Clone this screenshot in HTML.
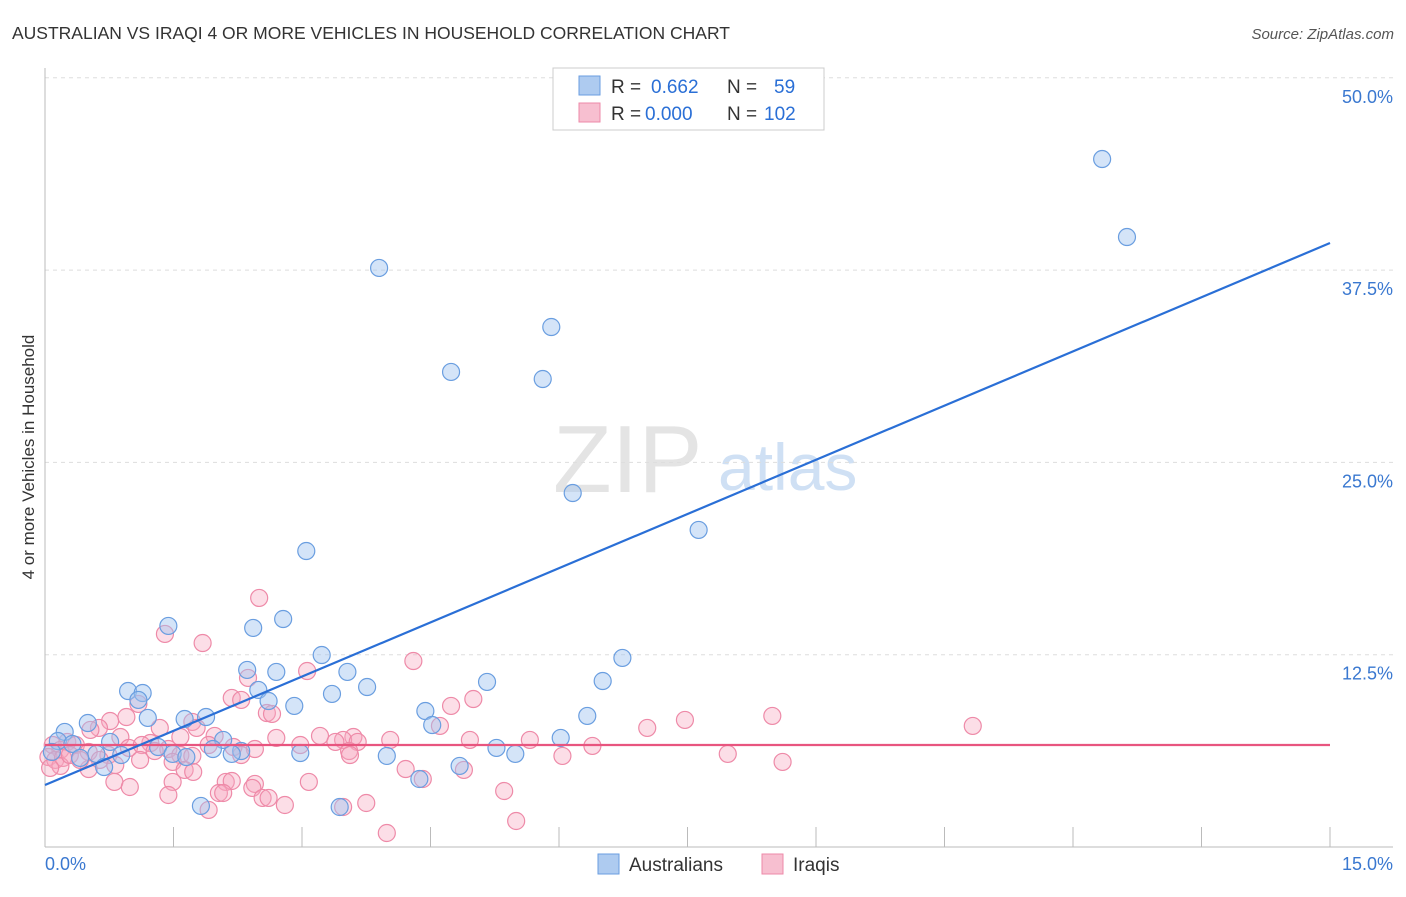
<!DOCTYPE html>
<html><head><meta charset="utf-8"><style>
body{margin:0;background:#fff;font-family:"Liberation Sans",sans-serif;}
svg text{font-family:"Liberation Sans",sans-serif;}
</style></head><body>
<svg id="chart" width="1406" height="892" xmlns="http://www.w3.org/2000/svg">
<text x="12" y="39" font-size="17.5" fill="#333">AUSTRALIAN VS IRAQI 4 OR MORE VEHICLES IN HOUSEHOLD CORRELATION CHART</text>
<text x="1394" y="39" font-size="15" fill="#555" font-style="italic" text-anchor="end">Source: ZipAtlas.com</text>
<g>
<text x="553" y="492" font-size="96" fill="#e4e4e4" font-family="Liberation Serif,serif">ZIP</text>
<text x="718" y="490" font-size="66" fill="#cfe0f4">atlas</text>
</g>
<g id="grid"></g>
<g id="axes"></g>
<g id="pts"></g>
<g id="lines"></g>
<text transform="translate(34,457) rotate(-90)" font-size="17" fill="#333" text-anchor="middle">4 or more Vehicles in Household</text>
<g>
<rect x="553" y="68" width="271" height="62" fill="#fff" stroke="#ccc"/>
<rect x="579" y="76" width="21" height="19" fill="#aecbf0" stroke="#6a9ee0"/>
<rect x="579" y="103" width="21" height="19" fill="#f7bfd0" stroke="#ee8aa8"/>
<text x="611" y="93" font-size="19" fill="#333">R = </text><text x="651" y="93" font-size="19" fill="#2a6fd6">0.662</text>
<text x="727" y="93" font-size="19" fill="#333">N = </text><text x="774" y="93" font-size="19" fill="#2a6fd6">59</text>
<text x="611" y="120" font-size="19" fill="#333">R = </text><text x="645" y="120" font-size="19" fill="#2a6fd6">0.000</text>
<text x="727" y="120" font-size="19" fill="#333">N = </text><text x="764" y="120" font-size="19" fill="#2a6fd6">102</text>
</g>
<g>
<rect x="598" y="854" width="21" height="20" fill="#aecbf0" stroke="#6a9ee0"/>
<text x="629" y="871" font-size="19" fill="#333">Australians</text>
<rect x="762" y="854" width="21" height="20" fill="#f7bfd0" stroke="#ee8aa8"/>
<text x="793" y="871" font-size="19" fill="#333">Iraqis</text>
</g>
</svg>
<script>
const blueX=[12.34,12.63,3.90,5.91,4.74,5.81,6.16,7.63,3.05,1.44,2.78,2.43,6.74,3.23,2.36,2.70,3.53,5.16,6.51,0.97,1.14,3.35,3.76,2.49,1.09,2.61,2.91,4.44,6.33,1.88,1.63,1.20,0.50,4.52,0.23,6.02,2.08,0.76,0.15,0.32,1.32,1.96,5.27,2.29,2.18,2.98,3.99,5.49,0.89,0.60,1.49,1.65,0.41,0.69,4.84,4.37,1.82,3.44,0.08];
const blueY=[44.72,39.65,37.64,33.80,30.88,30.42,23.01,20.61,19.24,14.37,14.82,14.24,12.29,12.48,11.51,11.38,11.38,10.73,10.79,10.14,10.01,9.95,10.40,10.21,9.56,9.49,9.17,8.84,8.52,8.45,8.32,8.39,8.06,7.93,7.48,7.09,6.96,6.83,6.89,6.70,6.50,6.37,6.44,6.24,6.05,6.11,5.92,6.05,5.98,6.05,6.05,5.85,5.79,5.20,5.27,4.42,2.67,2.60,6.18];
const pinkX=[2.50,1.40,1.84,4.30,3.06,2.37,5.00,4.74,2.18,2.29,1.09,2.59,2.65,0.95,0.76,0.63,1.72,4.61,7.47,8.49,10.83,7.03,1.34,0.53,3.21,3.60,3.48,3.39,3.65,1.58,1.77,1.98,0.88,1.23,0.26,0.36,0.09,6.39,0.98,1.13,1.44,2.45,2.20,0.18,0.51,0.74,3.55,3.56,7.97,1.58,1.72,6.04,0.04,0.12,0.21,0.64,1.49,8.61,0.18,0.06,0.51,1.63,4.21,4.89,1.73,4.41,1.49,0.81,0.99,2.11,2.18,2.45,3.08,2.42,2.03,2.08,1.44,5.36,2.54,2.61,2.80,3.75,1.91,3.48,5.50,3.99,0.29,0.41,1.11,0.82,1.28,1.91,2.29,2.70,2.98,4.03,4.96,5.66];
const pinkY=[16.19,13.85,13.26,12.09,11.44,10.99,9.62,9.17,9.69,9.56,9.30,8.71,8.65,8.45,8.19,7.74,8.13,7.87,8.26,8.52,7.87,7.74,7.74,7.61,7.22,7.15,6.96,6.83,6.83,7.15,7.74,7.22,7.15,6.76,6.83,6.63,6.63,6.57,6.44,6.63,6.37,6.37,6.50,6.31,6.18,5.98,6.24,5.98,6.05,5.98,5.92,5.92,5.85,5.66,5.79,5.66,5.53,5.53,5.27,5.14,5.07,5.01,5.07,5.01,4.88,4.42,4.23,4.23,3.90,4.23,4.29,4.10,4.23,3.84,3.51,3.51,3.38,3.64,3.19,3.19,2.73,2.86,2.41,2.60,1.69,0.91,5.98,5.66,5.66,5.33,6.24,6.63,5.98,7.09,6.63,6.96,6.96,6.96];
const yTicks=[12.5,25,37.5,50];
const yTickLabels=["12.5%","25.0%","37.5%","50.0%"];
const xTicks=[1.5,3,4.5,6,7.5,9,10.5,12,13.5,15];
const blueTrend=[4.03,39.26]; // y at x=0 and x=15
const pinkTrend=[6.63,6.63];
const NS='http://www.w3.org/2000/svg';
const sx=v=>45+v/15*1285;
const sy=v=>847-v/50*769.2;
function mk(tag,attrs,parent){const e=document.createElementNS(NS,tag);for(const k in attrs)e.setAttribute(k,attrs[k]);parent.appendChild(e);return e;}
const grid=document.getElementById('grid'),axes=document.getElementById('axes'),pts=document.getElementById('pts'),lines=document.getElementById('lines');
yTicks.forEach((t,i)=>{
 const l=mk('line',{x1:45,x2:1393,y1:sy(t),y2:sy(t),stroke:'#ddd','stroke-dasharray':'4,4'},grid);
 
 
 const tx=mk('text',{x:1393,y:sy(t)+25,'font-size':18,fill:'#3a78d0','text-anchor':'end'},axes);
 tx.textContent=yTickLabels[i];
 
 
});
const a1=mk('line',{x1:45,x2:45,y1:68,y2:847,stroke:'#bbb'},axes);


const a2=mk('line',{x1:45,x2:1393,y1:847,y2:847,stroke:'#bbb'},axes);


xTicks.forEach(t=>{
 const l=mk('line',{x1:sx(t),x2:sx(t),y1:827,y2:847,stroke:'#bbb'},axes);
 
 
});
const x0=mk('text',{x:45,y:870,'font-size':18,fill:'#3a78d0'},axes);x0.textContent='0.0%';


const x1=mk('text',{x:1393,y:870,'font-size':18,fill:'#3a78d0','text-anchor':'end'},axes);x1.textContent='15.0%';


pinkX.forEach((v,i)=>{
 const c=mk('circle',{cx:sx(v),cy:sy(pinkY[i]),r:8.5,fill:'rgba(246,168,192,0.38)',stroke:'#ee8aa8','stroke-width':1.2},pts);
 
 
});
blueX.forEach((v,i)=>{
 const c=mk('circle',{cx:sx(v),cy:sy(blueY[i]),r:8.5,fill:'rgba(160,196,240,0.45)',stroke:'#6a9ee0','stroke-width':1.2},pts);
 
 
});
const pl=mk('line',{x1:sx(0),x2:sx(15),y1:sy(pinkTrend[0]),y2:sy(pinkTrend[1]),stroke:'#e8557f','stroke-width':2.2},lines);


const bl=mk('line',{x1:sx(0),x2:sx(15),y1:sy(blueTrend[0]),y2:sy(blueTrend[1]),stroke:'#2a6fd6','stroke-width':2.2},lines);


</script>
</body></html>
